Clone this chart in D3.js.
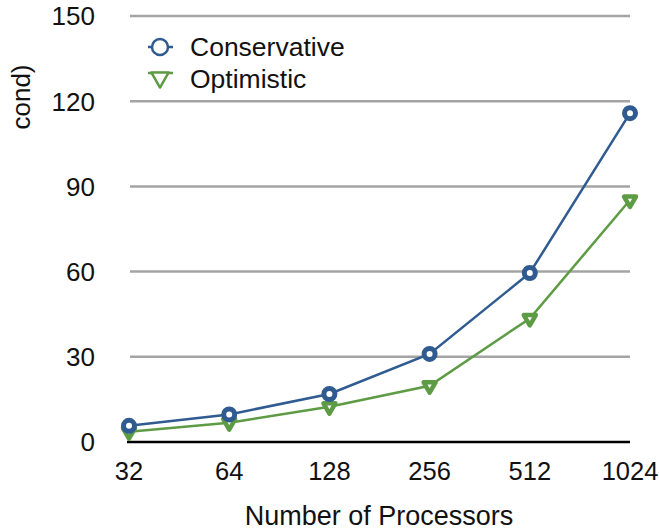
<!DOCTYPE html>
<html><head><meta charset="utf-8">
<script src="https://cdn.jsdelivr.net/npm/d3@7"></script>
<style>body{margin:0;background:#fff}svg{display:block}text{font-family:"Liberation Sans",Arial,Helvetica,sans-serif;fill:#111}</style>
</head><body><svg id="c" width="659" height="531"></svg>
<script>
const categories = ["32","64","128","256","512","1024"];
const conservative = [5.7, 9.7, 16.9, 31.0, 59.5, 115.8];
const optimistic = [3.6, 6.8, 12.4, 19.8, 43.5, 85.2];
const yTicks = [0, 30, 60, 90, 120, 150];
const seriesNames = ["Conservative", "Optimistic"];
const xTitle = "Number of Processors";
const yTitle = "cond)";

const blue = "#2f5b91", green = "#5e9b45";
const svg = d3.select("#c");
const x = d3.scalePoint().domain(categories).range([129, 630]);
const y = d3.scaleLinear().domain([0, 150]).range([442, 16]);

// gridlines
svg.append("g").selectAll("line").data(yTicks.filter(d => d > 0)).join("line")
  .attr("x1", 130).attr("x2", 630).attr("y1", d => y(d)).attr("y2", d => y(d))
  .attr("stroke", "#a4a4a4").attr("stroke-width", 2.5);
// x axis line
svg.append("line").attr("x1", 127).attr("x2", 630).attr("y1", y(0)).attr("y2", y(0))
  .attr("stroke", "#000").attr("stroke-width", 2.5);

// y tick labels
svg.append("g").selectAll("text").data(yTicks).join("text")
  .attr("x", 95).attr("y", d => y(d)).attr("dy", "0.36em")
  .attr("text-anchor", "end").attr("font-size", 26).text(d => d);
// x tick labels
svg.append("g").selectAll("text").data(categories).join("text")
  .attr("x", d => x(d)).attr("y", 480).attr("text-anchor", "middle")
  .attr("font-size", 25.5).text(d => d);
// titles
svg.append("text").attr("x", 379).attr("y", 525).attr("text-anchor", "middle")
  .attr("font-size", 27).text(xTitle);
svg.append("text").attr("transform", "translate(30,97) rotate(-90)")
  .attr("text-anchor", "middle").attr("font-size", 26).text(yTitle);

const line = d3.line().x((d, i) => x(categories[i])).y(d => y(d));
const tri = d3.symbol().type(d3.symbolTriangle).size(62);

svg.append("path").datum(optimistic).attr("d", line).attr("fill", "none")
  .attr("stroke", green).attr("stroke-width", 2.5);
svg.append("path").datum(conservative).attr("d", line).attr("fill", "none")
  .attr("stroke", blue).attr("stroke-width", 2.5);

svg.append("g").selectAll("path").data(optimistic).join("path")
  .attr("d", tri)
  .attr("transform", (d, i) => `translate(${x(categories[i])},${y(d)}) rotate(180)`)
  .attr("fill", "#fff").attr("stroke", green).attr("stroke-width", 4.5)
  .attr("stroke-linejoin", "round");
svg.append("g").selectAll("circle").data(conservative).join("circle")
  .attr("cx", (d, i) => x(categories[i])).attr("cy", d => y(d)).attr("r", 5.5)
  .attr("fill", "#fff").attr("stroke", blue).attr("stroke-width", 5);

// legend
const lg = svg.append("g");
lg.append("line").attr("x1", 148).attr("x2", 173).attr("y1", 47).attr("y2", 47)
  .attr("stroke", blue).attr("stroke-width", 2.5);
lg.append("circle").attr("cx", 160).attr("cy", 47).attr("r", 8)
  .attr("fill", "#fff").attr("stroke", blue).attr("stroke-width", 2.5);
lg.append("text").attr("x", 190).attr("y", 56).attr("font-size", 26.5).text(seriesNames[0]);
lg.append("line").attr("x1", 148).attr("x2", 173).attr("y1", 73).attr("y2", 73)
  .attr("stroke", green).attr("stroke-width", 2.5);
lg.append("path").attr("d", d3.symbol().type(d3.symbolTriangle).size(130))
  .attr("transform", "translate(160,77.5) rotate(180)")
  .attr("fill", "#fff").attr("stroke", green).attr("stroke-width", 2.5)
  .attr("stroke-linejoin", "round");
lg.append("text").attr("x", 190).attr("y", 88).attr("font-size", 26.5).text(seriesNames[1]);
</script></body></html>
